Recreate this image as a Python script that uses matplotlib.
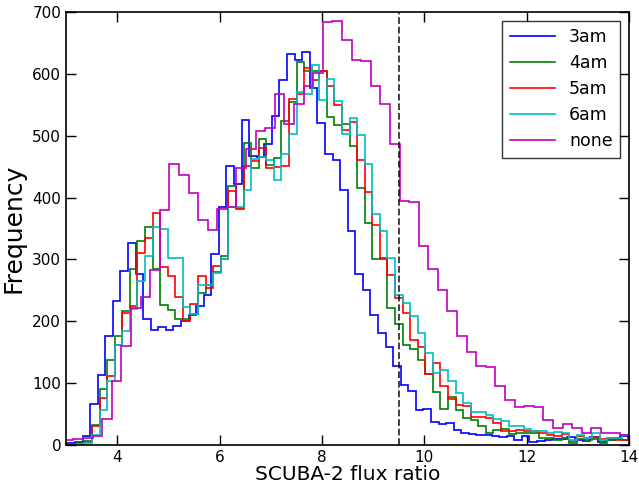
import numpy as np
import matplotlib
matplotlib.use('Agg')
import matplotlib.pyplot as plt
from matplotlib.lines import Line2D


# bin layout (each run was binned on its own)
start_3am = 3.027
start_rgc = 3.064
start_none = 2.957
width_small = 0.148
width_none = 0.1874

# counts per bin
counts_3am = [3, 5, 15, 66, 113, 177, 232, 282, 327, 277, 204, 186, 190, 186, 192,
              200, 210, 225, 243, 309, 384, 451, 422, 525, 467, 466, 487, 532, 590,
              632, 623, 635, 577, 520, 471, 461, 412, 346, 276, 251, 210, 181, 159,
              127, 97, 87, 57, 59, 37, 34, 35, 25, 20, 18, 16, 17, 15, 13, 14, 8,
              14, 5, 6, 8, 9, 9, 13, 8, 6, 13, 5, 8, 12, 14, 12]
counts_4am = [1, 3, 6, 32, 90, 138, 177, 216, 284, 330, 352, 284, 227, 219, 204,
              204, 211, 245, 259, 279, 305, 418, 383, 488, 447, 494, 452, 464, 523,
              555, 619, 604, 605, 605, 530, 517, 519, 483, 416, 359, 301, 303, 222,
              196, 162, 156, 138, 115, 86, 58, 78, 57, 43, 41, 31, 20, 25, 26, 18,
              20, 20, 19, 12, 11, 8, 11, 4, 9, 8, 9, 4, 8, 9, 8, 8]
counts_5am = [0, 2, 5, 31, 76, 111, 162, 213, 225, 310, 335, 375, 288, 274, 240,
              200, 228, 274, 254, 290, 300, 410, 382, 451, 459, 480, 448, 450, 451,
              560, 567, 610, 590, 605, 581, 550, 510, 522, 460, 409, 355, 301, 275,
              237, 213, 169, 159, 115, 132, 96, 74, 65, 63, 46, 45, 43, 35, 22, 23,
              25, 22, 22, 19, 16, 14, 18, 7, 14, 12, 13, 9, 12, 8, 8, 8]
counts_6am = [0, 2, 3, 17, 57, 104, 162, 184, 220, 265, 306, 353, 350, 302, 302,
              223, 211, 259, 259, 278, 300, 384, 384, 413, 462, 465, 460, 428, 471,
              502, 571, 567, 615, 558, 591, 556, 503, 528, 501, 455, 374, 346, 302,
              243, 230, 208, 181, 148, 116, 122, 104, 84, 68, 53, 54, 49, 42, 39, 30,
              30, 26, 23, 22, 19, 21, 20, 8, 16, 11, 19, 8, 12, 12, 16, 15]
counts_none = [8, 9, 11, 14, 42, 103, 160, 222, 240, 283, 380, 454, 436, 407, 363,
               348, 382, 385, 447, 479, 508, 512, 567, 519, 551, 580, 602, 683, 685,
               655, 623, 620, 581, 551, 486, 395, 393, 321, 285, 251, 217, 177, 151,
               128, 126, 96, 72, 62, 63, 61, 40, 28, 34, 28, 20, 28, 19, 20, 16, 14]

labels = ['3am', '4am', '5am', '6am', 'none']
colours = ['b', 'g', 'r', 'c', 'm']
cut = 9.5


def edges_for(start, width, n):
    return start + width*np.arange(n+1)


runs = [(counts_3am, start_3am, width_small),
        (counts_4am, start_rgc, width_small),
        (counts_5am, start_rgc, width_small),
        (counts_6am, start_rgc, width_small),
        (counts_none, start_none, width_none)]

fig = plt.figure(figsize=(6.39, 4.87), dpi=100, facecolor='white')
ax = fig.add_axes([0.1033, 0.0862, 0.8811, 0.8892])

for (counts, start, width), col in zip(runs, colours):
    edges = edges_for(start, width, len(counts))
    centres = 0.5*(edges[:-1] + edges[1:])
    ax.hist(centres, bins=edges, weights=counts, histtype='step',
            color=col, linewidth=1.2)

ax.axvline(cut, color='k', linestyle='--', linewidth=1.3, alpha=0.8)

ax.set_xlim(3, 14)
ax.set_ylim(0, 700)
ax.set_xticks([4, 6, 8, 10, 12, 14])
ax.set_yticks(np.arange(0, 701, 100))
ax.tick_params(direction='in', top=True, right=True, length=7, width=1,
               labelsize=11)
for sp in ax.spines.values():
    sp.set_linewidth(1.2)

ax.set_xlabel('SCUBA-2 flux ratio', fontsize=14.5, labelpad=0)
ax.set_ylabel('Frequency', fontsize=18, labelpad=5)

handles = [Line2D([], [], color=c, linewidth=1.2) for c in colours]
leg = ax.legend(handles, labels, loc='upper right', fontsize=12.5,
                fancybox=False, handlelength=2.6, borderaxespad=0.5,
                labelspacing=0.45, borderpad=0.45)
leg.get_frame().set_edgecolor('k')

fig.savefig('out.png', dpi=100)
